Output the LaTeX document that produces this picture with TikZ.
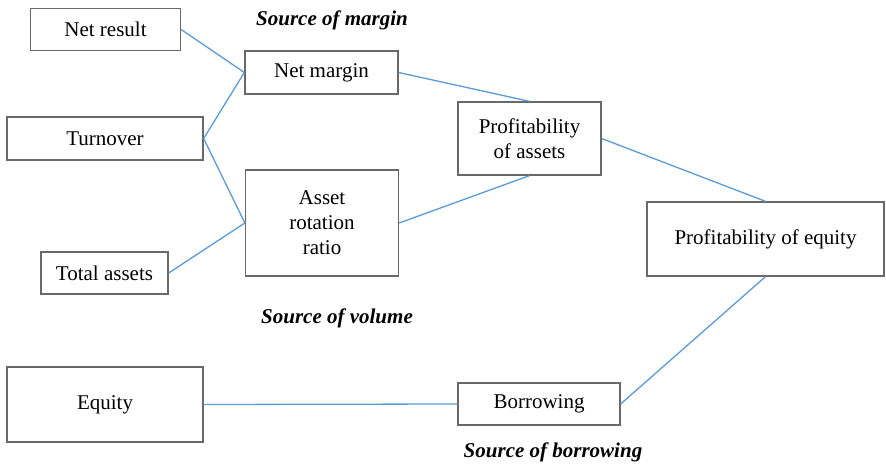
\documentclass[tikz,border=0pt]{standalone}
\usepackage{fontspec}
\setmainfont{Liberation Serif}
\definecolor{boxgray}{RGB}{105,105,105}
\definecolor{linkblue}{RGB}{91,155,213}

\begin{document}
\begin{tikzpicture}[x=1pt, y=-1pt]
        % Define styles for the boxes, the links and the source labels
        \tikzset{
            ratio_box/.style={draw=boxgray, line width=1.3pt, inner sep=0pt, align=center,
                font=\fontsize{21}{25}\selectfont},
            link/.style={draw=linkblue, line width=1.3pt},
            src_label/.style={font=\fontsize{21}{25}\selectfont\bfseries\itshape}
        }

        \useasboundingbox (0,0) rectangle (886,465);

        % Left column: the inputs
        \node[ratio_box, minimum width=150, minimum height=42] (netresult) at (105.5,29.5) {Net result};
        \node[ratio_box, minimum width=196, minimum height=43] (turnover) at (105,138.5) {Turnover};
        \node[ratio_box, minimum width=127, minimum height=42] (totalassets) at (104.5,273) {Total assets};
        \node[ratio_box, minimum width=196, minimum height=75] (equity) at (105,404.5) {Equity};

        % Middle column: the two ratios
        \node[ratio_box, minimum width=153, minimum height=43] (netmargin) at (321.5,72.5) {Net margin};
        \node[ratio_box, minimum width=153, minimum height=106] (rotation) at (322,223) {Asset\\rotation\\ratio};

        % Right side: the profitabilities and borrowing
        \node[ratio_box, minimum width=143, minimum height=73] (profassets) at (529.5,138.5) {Profitability\\of assets};
        \node[ratio_box, minimum width=237, minimum height=74] (profequity) at (765.5,239) {Profitability of equity};
        \node[ratio_box, minimum width=162, minimum height=42] (borrowing) at (539,404) {Borrowing};

        % Source labels
        \node[src_label] (srcmargin) at (332,20) {Source of margin};
        \node[src_label] (srcvolume) at (337,318) {Source of volume};
        \node[src_label] (srcborrowing) at (553,452) {Source of borrowing};

        % Links
        \draw[link] (netresult.east) -- (netmargin.west);
        \draw[link] (turnover.east) -- (netmargin.west);
        \draw[link] (turnover.east) -- (rotation.west);
        \draw[link] (totalassets.east) -- (rotation.west);
        \draw[link] (netmargin.east) -- (profassets.north);
        \draw[link] (rotation.east) -- (profassets.south);
        \draw[link] (profassets.east) -- (profequity.north);
        \draw[link] (equity.east) -- (borrowing.west);
        \draw[link] (borrowing.east) -- (profequity.south);

    \end{tikzpicture}
\end{document}
